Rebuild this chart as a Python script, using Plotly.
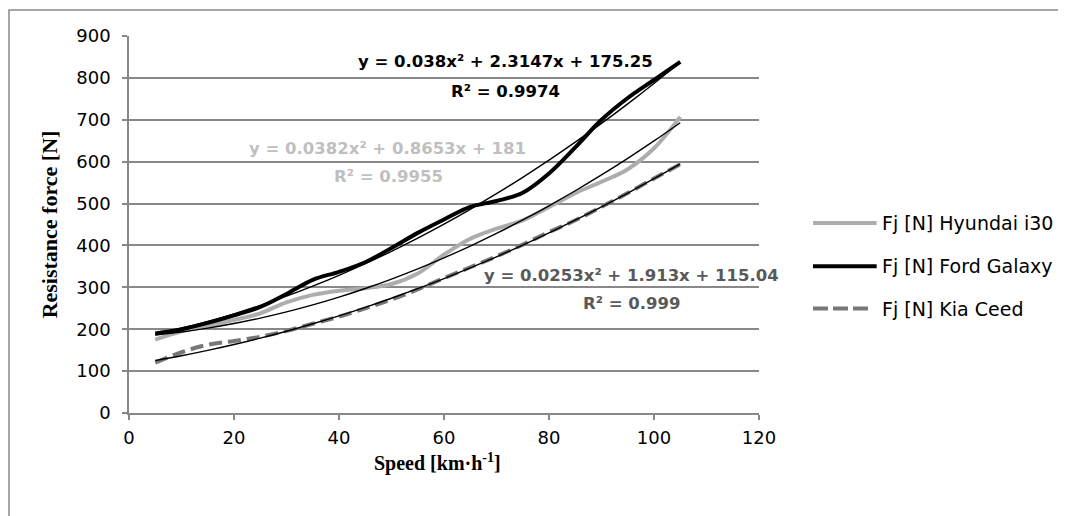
import plotly.graph_objects as go

speed = [5, 10, 15, 20, 25, 30, 35, 40, 45, 50, 55, 60, 65, 70, 75, 80, 85, 90, 95, 100, 105]
hyundai = [175, 195, 208, 222, 238, 264, 282, 292, 298, 308, 333, 378, 416, 440, 460, 492, 525, 552, 582, 632, 707]
ford = [190, 200, 215, 233, 253, 284, 318, 337, 360, 394, 430, 462, 492, 506, 526, 572, 634, 700, 752, 795, 838]
kia = [120, 145, 163, 172, 182, 196, 213, 230, 250, 271, 295, 322, 348, 374, 402, 432, 460, 492, 525, 560, 594]

series_names = ["Fj [N] Hyundai i30", "Fj [N] Ford Galaxy", "Fj [N] Kia Ceed"]

# trendline coefficients as printed on the chart (a, b, c for a*x^2 + b*x + c)
coef_hyundai = [0.0382, 0.8653, 181]
coef_ford = [0.038, 2.3147, 175.25]
coef_kia = [0.0253, 1.913, 115.04]

eq_texts = ["y = 0.038x² + 2.3147x + 175.25", "R² = 0.9974",
            "y = 0.0382x² + 0.8653x + 181", "R² = 0.9955",
            "y = 0.0253x² + 1.913x + 115.04", "R² = 0.999"]

y_ticks = list(range(0, 1000, 100))
x_ticks = list(range(0, 140, 20))


def trend(coef):
    a, b, c = coef
    return [a * v * v + b * v + c for v in speed]


styles = [
    dict(color="#ADADAD", width=4, shape="spline"),
    dict(color="#000000", width=4, shape="spline"),
    dict(color="#777777", width=4, shape="spline", dash="13px,6px"),
]

fig = go.Figure()
for ys, nm, st in zip((hyundai, ford, kia), series_names, styles):
    fig.add_trace(go.Scatter(x=speed, y=ys, mode="lines", name=nm, line=st, showlegend=False))
for coef in (coef_hyundai, coef_ford, coef_kia):
    fig.add_trace(go.Scatter(x=speed, y=trend(coef), mode="lines", showlegend=False,
                             hoverinfo="skip",
                             line=dict(color="#000000", width=1.4, shape="spline")))

ann = [
    (71.7, 838, eq_texts[0], "#000000"),
    (71.8, 767, eq_texts[1], "#000000"),
    (49.3, 632, eq_texts[2], "#BFBFBF"),
    (49.5, 564, eq_texts[3], "#BFBFBF"),
    (95.7, 329, eq_texts[4], "#595959"),
    (95.7, 262, eq_texts[5], "#595959"),
]
for x, y, t, c in ann:
    fig.add_annotation(x=x, y=y, xref="x", yref="y", text="<b>" + t + "</b>", showarrow=False,
                       font=dict(family="DejaVu Sans", size=16.5, color=c))

# manual legend (long line samples as in the original)
leg_y = [0.504, 0.389, 0.277]
leg_x1 = [1.1868, 1.1868, 1.173]
leg_dash = ["solid", "solid", "15px,5px"]
for yy, x1, dsh, nm, st in zip(leg_y, leg_x1, leg_dash, series_names, styles):
    fig.add_shape(type="line", xref="paper", yref="paper", x0=1.0857, x1=x1, y0=yy, y1=yy,
                  line=dict(color=st["color"], width=4, dash=dsh))
    fig.add_annotation(x=1.1948, y=yy, xref="paper", yref="paper", text=nm, showarrow=False,
                       xanchor="left", yanchor="middle", xshift=-2,
                       font=dict(family="DejaVu Sans", size=19, color="#000000"))

# x axis title placed as annotation for exact placement
fig.add_annotation(x=0.49, y=-0.13, xref="paper", yref="paper",
                   text="<b>Speed [km·h<sup>-1</sup>]</b>", showarrow=False,
                   xanchor="center", yanchor="middle",
                   font=dict(family="Liberation Serif", size=20, color="#000000"))

axis_grey = "#888888"
fig.update_layout(
    width=1058, height=508,
    margin=dict(l=121, r=307, t=28, b=103.3, autoexpand=False),
    paper_bgcolor="white", plot_bgcolor="white",
    font=dict(family="DejaVu Sans", color="#000000", size=18),
    xaxis=dict(range=[0, 120], tickvals=x_ticks, ticks="outside", ticklen=5, tickcolor=axis_grey,
               tickwidth=1.5, showline=True, linecolor=axis_grey, linewidth=1.5, showgrid=False,
               zeroline=False, ticklabelstandoff=3,
               tickfont=dict(size=18, family="DejaVu Sans", color="#000000")),
    yaxis=dict(range=[0, 900], tickvals=y_ticks, ticks="outside", ticklen=5, tickcolor=axis_grey,
               tickwidth=1.5, showline=True, linecolor=axis_grey, linewidth=1.5, showgrid=True,
               gridcolor=axis_grey, gridwidth=1.5, zeroline=False, ticklabelstandoff=8,
               tickfont=dict(size=18, family="DejaVu Sans", color="#000000"),
               title=dict(text="<b>Resistance force [N]</b>",
                          font=dict(family="Liberation Serif", size=22, color="#000000"), standoff=13)),
    showlegend=False,
)
fig.add_shape(type="rect", xref="paper", yref="paper", x0=-0.1905, y0=-0.2795, x1=1.49, y1=1.069,
              line=dict(color="#8A8A8A", width=1.5), layer="below")

fig.write_html("out.html")
